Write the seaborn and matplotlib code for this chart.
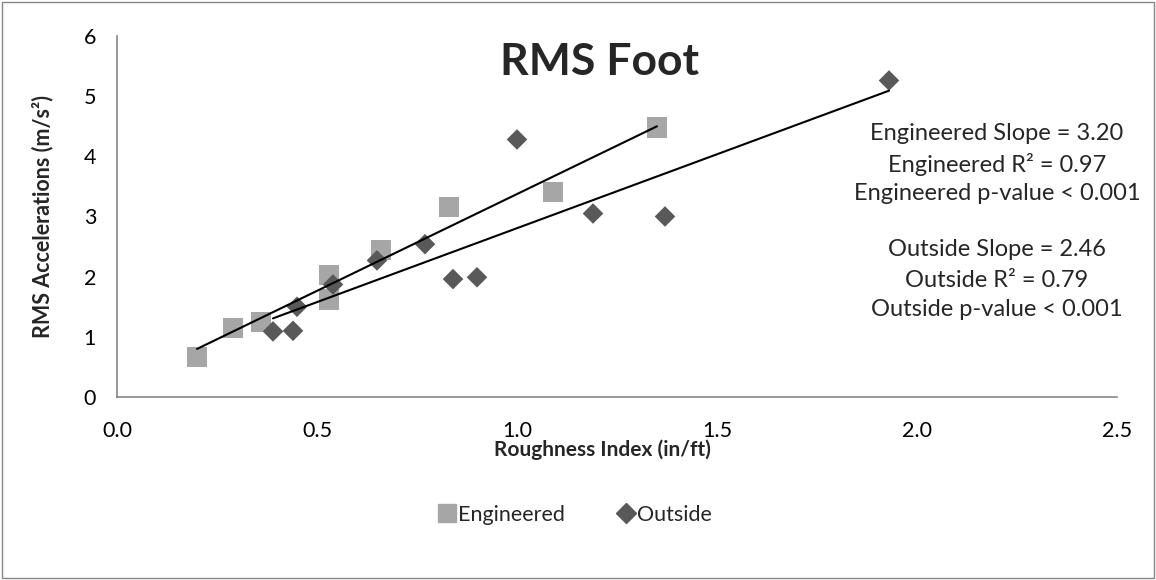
import numpy as np
import pandas as pd
import matplotlib
matplotlib.use("Agg")
import matplotlib.pyplot as plt
import seaborn as sns
from matplotlib.lines import Line2D
from matplotlib.patches import Rectangle

# ---- data ----
eng_x = [0.20, 0.29, 0.36, 0.53, 0.53, 0.66, 0.83, 1.09, 1.35]
eng_y = [0.66, 1.15, 1.25, 2.03, 1.62, 2.44, 3.16, 3.40, 4.48]
out_x = [0.39, 0.44, 0.45, 0.54, 0.65, 0.77, 0.84, 0.90, 1.00, 1.19, 1.37, 1.93]
out_y = [1.09, 1.10, 1.50, 1.87, 2.27, 2.54, 1.96, 1.99, 4.28, 3.05, 3.00, 5.26]
series = ["Engineered", "Outside"]
eng_stats = ["Engineered Slope = 3.20", "Engineered R\u00b2 = 0.97",
             "Engineered p-value < 0.001"]
out_stats = ["Outside Slope = 2.46", "Outside R\u00b2 = 0.79",
             "Outside p-value < 0.001"]
title = "RMS Foot"
xlabel = "Roughness Index (in/ft)"
ylabel = "RMS Accelerations (m/s\u00b2)"
xticks = [0.0, 0.5, 1.0, 1.5, 2.0, 2.5]
yticks = [0, 1, 2, 3, 4, 5, 6]

sns.set_style("white")
plt.rcParams["font.family"] = ["Lato", "DejaVu Sans"]

eng = pd.DataFrame({"x": eng_x, "y": eng_y})
out = pd.DataFrame({"x": out_x, "y": out_y})

col_eng = "#A6A6A6"
col_out = "#595959"
axis_col = "#868686"

W, H = 1156, 580
fig = plt.figure(figsize=(W / 100, H / 100), dpi=100)
ax = fig.add_axes([117 / W, 1 - 397 / H, 1000 / W, 361 / H])

sns.scatterplot(data=eng, x="x", y="y", marker="s", s=210, color=col_eng,
                edgecolor="none", ax=ax, zorder=3)
sns.scatterplot(data=out, x="x", y="y", marker="D", s=110, color=col_out,
                edgecolor="none", ax=ax, zorder=3)
sns.regplot(data=eng, x="x", y="y", scatter=False, ci=None, ax=ax, truncate=True,
            line_kws=dict(color="black", lw=1.5, zorder=4))
sns.regplot(data=out, x="x", y="y", scatter=False, ci=None, ax=ax, truncate=True,
            line_kws=dict(color="black", lw=1.5, zorder=4))

ax.set_xlim(0, 2.5)
ax.set_ylim(0, 6)
ax.set_xticks(xticks)
ax.set_xticklabels([f"{t:.1f}" for t in xticks])
ax.set_yticks(yticks)
ax.set_yticklabels([str(t) for t in yticks])
ax.tick_params(axis="both", labelsize=15.5, labelcolor="black", color=axis_col,
               length=5, width=1.2, direction="out")
ax.tick_params(axis="x", pad=12)
ax.tick_params(axis="y", pad=10)
for s in ["top", "right"]:
    ax.spines[s].set_visible(False)
for s in ["left", "bottom"]:
    ax.spines[s].set_color(axis_col)
    ax.spines[s].set_linewidth(1.2)
ax.grid(False)

ax.set_xlabel(xlabel, fontsize=15, fontweight="bold")
ax.set_ylabel(ylabel, fontsize=15.5, fontweight="bold")
ax.xaxis.set_label_coords(0.485, -0.118)
ax.yaxis.set_label_coords(-0.064, 0.5)

ax.text((600 - 117) / 1000, (397 - 62) / 361, title, transform=ax.transAxes,
        ha="center", va="center", fontsize=32, fontweight="bold")

for i, line in enumerate(eng_stats):
    fig.text(997 / W, 1 - (134 + 30 * i) / H, line, ha="center",
             va="center", fontsize=17)
for i, line in enumerate(out_stats):
    fig.text(997 / W, 1 - (250 + 30 * i) / H, line, ha="center",
             va="center", fontsize=17)

handles = [
    Line2D([], [], marker="s", ls="none", color=col_eng, markersize=13),
    Line2D([], [], marker="D", ls="none", color=col_out, markersize=10),
]
fig.legend(handles, series, loc="center", bbox_to_anchor=(0.497, 1 - 515 / H),
           ncol=2, frameon=False, fontsize=15.5, handletextpad=0.05,
           columnspacing=2.4, handlelength=0.9)

fig.patches.append(Rectangle((2 / W, 2 / H), 1152 / W, 576 / H,
                             transform=fig.transFigure, fill=False,
                             edgecolor=axis_col, lw=1))

fig.savefig("out.png", dpi=100)
